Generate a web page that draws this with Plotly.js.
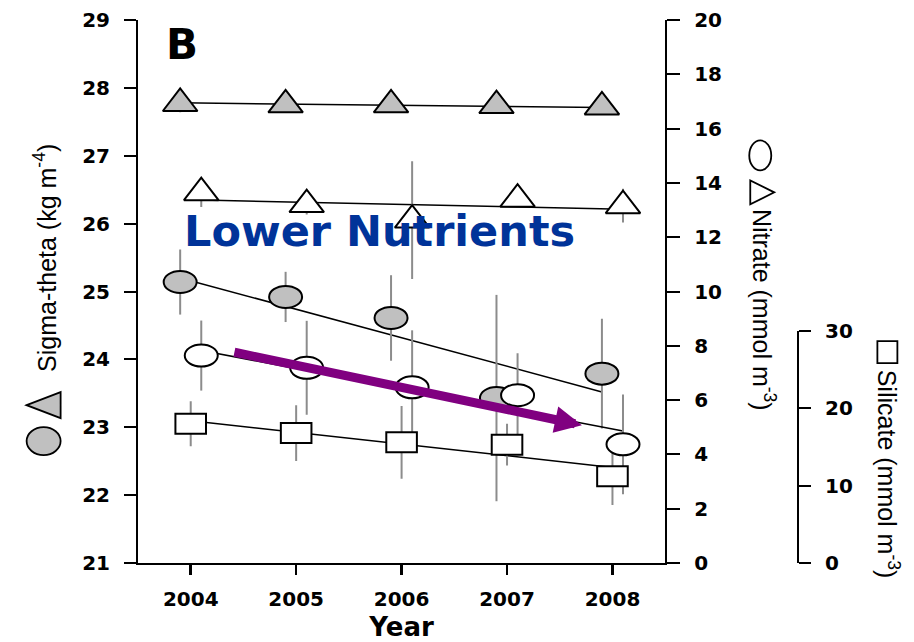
<!DOCTYPE html>
<html><head><meta charset="utf-8">
<script src="https://cdn.plot.ly/plotly-3.0.1.min.js"></script>
<style>html,body{margin:0;padding:0;background:#fff;overflow:hidden;} #chart{width:914px;height:642px;}</style>
</head><body><div id="chart"></div>
<script>
// ---- data ----
const years = [2004, 2005, 2006, 2007, 2008];
const sigmaCircle = [25.14, 24.92, 24.61, 23.43, 23.79];
const sigmaCircleErr = [0.48, 0.37, 0.63, 1.52, 0.81];
const sigmaTriangle = [27.77, 27.75, 27.75, 27.74, 27.72];
const sigmaTriangleErr = [0.13, 0.1, 0.1, 0.1, 0.1];
const nitrateCircle = [7.64, 7.19, 6.47, 6.18, 4.37];
const nitrateCircleErr = [1.29, 1.73, 2.1, 1.55, 1.84];
const nitrateTriangle = [13.64, 13.20, 12.63, 13.40, 13.16];
const nitrateTriangleErr = [0.53, 0.36, 2.17, 0.25, 0.62];
const silicate = [18.0, 16.8, 15.6, 15.3, 11.2];
const silicateErr = [2.9, 3.6, 4.7, 2.7, 3.7];
// trend-line end values (first and last year)
const fitYears = [2004, 2008];
const sigmaCircleFit = [25.20, 23.52];
const sigmaTriangleFit = [27.78, 27.71];
const nitrateCircleFit = [7.83, 4.86];
const nitrateTriangleFit = [13.37, 13.03];
const silicateFit = [18.4, 12.35];

// ---- layout constants ----
const W = 914, H = 642, ML = 138.3, MR = 116.3, MT = 19.5, MB = 79;
const px = v => (v - ML) / (W - ML - MR);
const py = v => (H - MB - v) / (H - MT - MB);
const shiftGray = -0.1, shiftWhite = 0.1, shiftSquare = 0;
const sh = (arr, d) => arr.map(v => v + d);

const GRAY = '#c0c0c0', ERR = '#8c8c8c';
const tickFont = {family: 'DejaVu Sans', size: 20, color: '#000', weight: 'bold'};
const titleFont = {family: 'Liberation Sans, Arial', size: 25, color: '#000'};

function errTrace(x, y, e, yaxis, symbol, size, fill) {
  return {type: 'scatter', mode: 'markers', x: x, y: y, yaxis: yaxis, cliponaxis: false,
    marker: {symbol: symbol, size: size, color: fill, line: {color: '#000', width: 2}},
    error_y: {type: 'data', array: e, visible: true, color: ERR, thickness: 2, width: 0},
    hoverinfo: 'skip'};
}
function fitTrace(x, y, yaxis) {
  return {type: 'scatter', mode: 'lines', x: x, y: y, yaxis: yaxis,
    line: {color: '#000', width: 1.5}, hoverinfo: 'skip'};
}

const data = [
  fitTrace(sh(fitYears, shiftGray), sigmaCircleFit, 'y'),
  fitTrace(sh(fitYears, shiftGray), sigmaTriangleFit, 'y'),
  errTrace(sh(years, shiftGray), sigmaCircle, sigmaCircleErr, 'y', 'circle', 18, GRAY),
  errTrace(sh(years, shiftGray), sigmaTriangle, sigmaTriangleErr, 'y', 'triangle-up', 30, GRAY),
  fitTrace(sh(fitYears, shiftWhite), nitrateCircleFit, 'y2'),
  fitTrace(sh(fitYears, shiftWhite), nitrateTriangleFit, 'y2'),
  errTrace(sh(years, shiftWhite), nitrateCircle, nitrateCircleErr, 'y2', 'circle', 18, '#fff'),
  errTrace(sh(years, shiftWhite), nitrateTriangle, nitrateTriangleErr, 'y2', 'triangle-up', 30, '#fff'),
  fitTrace(sh(fitYears, shiftSquare), silicateFit, 'y3'),
  errTrace(sh(years, shiftSquare), silicate, silicateErr, 'y3', 'square', 16, '#fff')
];

// wide (elliptical / rectangular) markers anchored on the data values
function markShape(type, xv, yv, yref, rx, ry, fill) {
  return {type: type, xref: 'x', yref: yref, xsizemode: 'pixel', ysizemode: 'pixel',
    xanchor: xv, yanchor: yv, x0: -rx, x1: rx, y0: -ry, y1: ry,
    fillcolor: fill, line: {color: '#000', width: 2}, layer: 'above'};
}
const shapes = [];
sh(years, shiftGray).forEach((x, i) => shapes.push(markShape('circle', x, sigmaCircle[i], 'y', 16.5, 11, GRAY)));
sh(years, shiftWhite).forEach((x, i) => shapes.push(markShape('circle', x, nitrateCircle[i], 'y2', 16.5, 11, '#fff')));
sh(years, shiftSquare).forEach((x, i) => shapes.push(markShape('rect', x, silicate[i], 'y3', 15.3, 10, '#fff')));

// symbols inside the axis titles
function symShape(type, cx, cy, rx, ry, fill) {
  return {type: type, xref: 'paper', yref: 'paper', xsizemode: 'pixel', ysizemode: 'pixel',
    xanchor: px(cx), yanchor: py(cy), x0: -rx, x1: rx, y0: -ry, y1: ry,
    fillcolor: fill, line: {color: '#000', width: 1.8}, layer: 'above'};
}
function triShape(cx, cy, w, h, dir, fill) {
  const a = dir * w / 2, b = -dir * w / 2;
  return {type: 'path', xref: 'paper', yref: 'paper', xsizemode: 'pixel', ysizemode: 'pixel',
    xanchor: px(cx), yanchor: py(cy),
    path: `M${a},0 L${b},${h / 2} L${b},${-h / 2} Z`,
    fillcolor: fill, line: {color: '#000', width: 1.8}, layer: 'above'};
}
shapes.push(symShape('circle', 44, 441, 17, 14, GRAY));
shapes.push(triShape(44, 405, 34, 26, -1, GRAY));
shapes.push(symShape('circle', 760, 155, 11, 15, '#fff'));
shapes.push(triShape(762, 192, 24, 24, 1, '#fff'));
shapes.push(symShape('rect', 887, 352, 10, 11, '#fff'));

const annotations = [
  {text: 'B', xref: 'paper', yref: 'paper', x: px(164), y: py(17), xanchor: 'left', yanchor: 'top',
   showarrow: false, font: {family: 'DejaVu Sans', size: 42, color: '#000', weight: 'bold'}},
  {text: 'Lower Nutrients', xref: 'paper', yref: 'paper', x: px(380), y: py(231), xanchor: 'center', yanchor: 'middle',
   showarrow: false, font: {family: 'DejaVu Sans', size: 43, color: '#003399', weight: 'bold'}},
  {text: '', xref: 'x', yref: 'y', x: 2007.71, y: 23.03, axref: 'x', ayref: 'y', ax: 2004.40, ay: 24.11,
   showarrow: true, arrowhead: 2, arrowsize: 0.6, arrowwidth: 9, arrowcolor: '#800080', standoff: 0, startstandoff: 0},
  {text: 'Sigma-theta (kg m<sup>-4</sup>)', xref: 'paper', yref: 'paper', x: px(46), y: py(258),
   xanchor: 'center', yanchor: 'middle', textangle: -90, showarrow: false, font: titleFont},
  {text: 'Nitrate (mmol m<sup>-3</sup>)', xref: 'paper', yref: 'paper', x: px(763), y: py(310),
   xanchor: 'center', yanchor: 'middle', textangle: 90, showarrow: false, font: titleFont},
  {text: 'Silicate (mmol m<sup>-3</sup>)', xref: 'paper', yref: 'paper', x: px(888), y: py(474),
   xanchor: 'center', yanchor: 'middle', textangle: 90, showarrow: false, font: titleFont}
];

const yCommon = {ticks: 'outside', tickcolor: '#000', tickwidth: 2, showline: true, linecolor: '#000',
  linewidth: 2, showgrid: false, zeroline: false, tickfont: tickFont, ticklabelstandoff: 10, fixedrange: true};

const layout = {
  width: W, height: H,
  margin: {l: ML, r: MR, t: MT, b: MB, pad: 0},
  paper_bgcolor: '#fff', plot_bgcolor: 'rgba(0,0,0,0)', showlegend: false,
  font: {family: 'Liberation Sans, Arial', color: '#000'},
  xaxis: {domain: [0, (665 - ML) / (W - ML - MR)], range: [2003.5, 2008.5], tickvals: years,
    ticktext: years.map(String), ticks: 'outside', ticklen: 10, tickwidth: 2.5, tickcolor: '#000',
    showline: true, linecolor: '#000', linewidth: 2, showgrid: false, zeroline: false,
    tickfont: tickFont, ticklabelstandoff: 7,
    title: {text: 'Year', font: {family: 'DejaVu Sans', size: 26, color: '#000', weight: 'bold'}, standoff: 11}},
  yaxis: Object.assign({range: [21, 29], dtick: 1, ticklen: 12}, yCommon),
  yaxis2: Object.assign({range: [0, 20], dtick: 2, overlaying: 'y', side: 'right', anchor: 'x', ticklen: 13}, yCommon),
  yaxis3: Object.assign({range: [0, 30], dtick: 10, domain: [0, (563 - 330.7) / (H - MT - MB)],
    anchor: 'free', position: 1, side: 'right', ticklen: 12}, yCommon),
  shapes: shapes,
  annotations: annotations
};

Plotly.newPlot('chart', data, layout, {staticPlot: true, displayModeBar: false});
</script></body></html>
